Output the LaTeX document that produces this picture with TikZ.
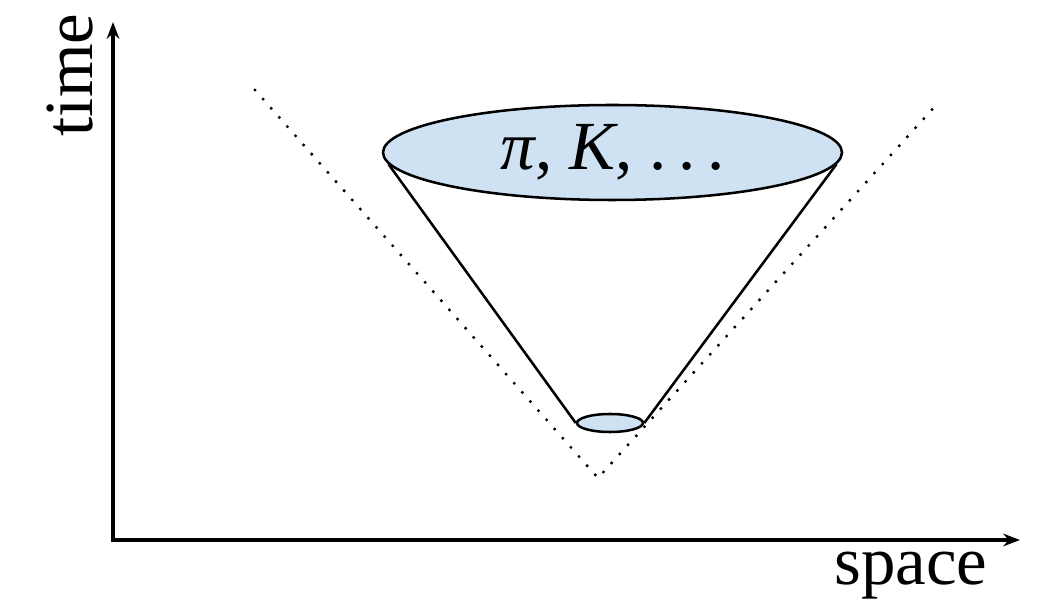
\documentclass[tikz,border=0pt]{standalone}
\usepackage{fontspec}
\setmainfont{Liberation Serif}
\usetikzlibrary{shapes.geometric,arrows.meta}
\definecolor{conefill}{HTML}{CFE2F3}

\begin{document}
\begin{tikzpicture}[
	font=\fontsize{49}{58}\selectfont,
	>={Stealth[length=12pt,width=9pt,inset=4pt]},
	axis/.style={line width=2.6pt},
	cone/.style={ellipse, draw=black, line width=1.8pt, fill=conefill, inner sep=0pt},
	side/.style={line width=1.8pt},
	lightcone/.style={line width=2.4pt, line cap=round, dash pattern=on 0pt off 8.7pt}
]
\useasboundingbox (0,0) rectangle (26.375,15.325);

% --- Axes ---
\coordinate (origin) at (2.825,1.825);
\coordinate (ytip) at (2.825,14.775);
\coordinate (xtip) at (25.5,1.825);
\draw[axis,<->] (ytip) |- (xtip);
\node[rotate=90, anchor=base] (tlabel) at (2.3,13.45) {time};
\node[anchor=base] (slabel) at (22.775,0.7) {space};

% --- Light cone ---
\coordinate (apex) at (14.95,3.375);
\coordinate (lctop) at (6.375,13.075);
\coordinate (rctop) at (23.45,12.75);
\draw[lightcone] (lctop) -- (apex) -- (rctop);

% --- Hadron cone ---
\node[cone, minimum width=11.475cm, minimum height=2.375cm] (final) at (15.3125,11.5125) {{\itshape π}, {\itshape K}, .\,.\,.};
\node[cone, minimum width=1.65cm, minimum height=0.45cm] (start) at (15.25,4.75) {};
\draw[side] (final.183) -- (start.west);
\draw[side] (final.357) -- (start.east);

\end{tikzpicture}
\end{document}
